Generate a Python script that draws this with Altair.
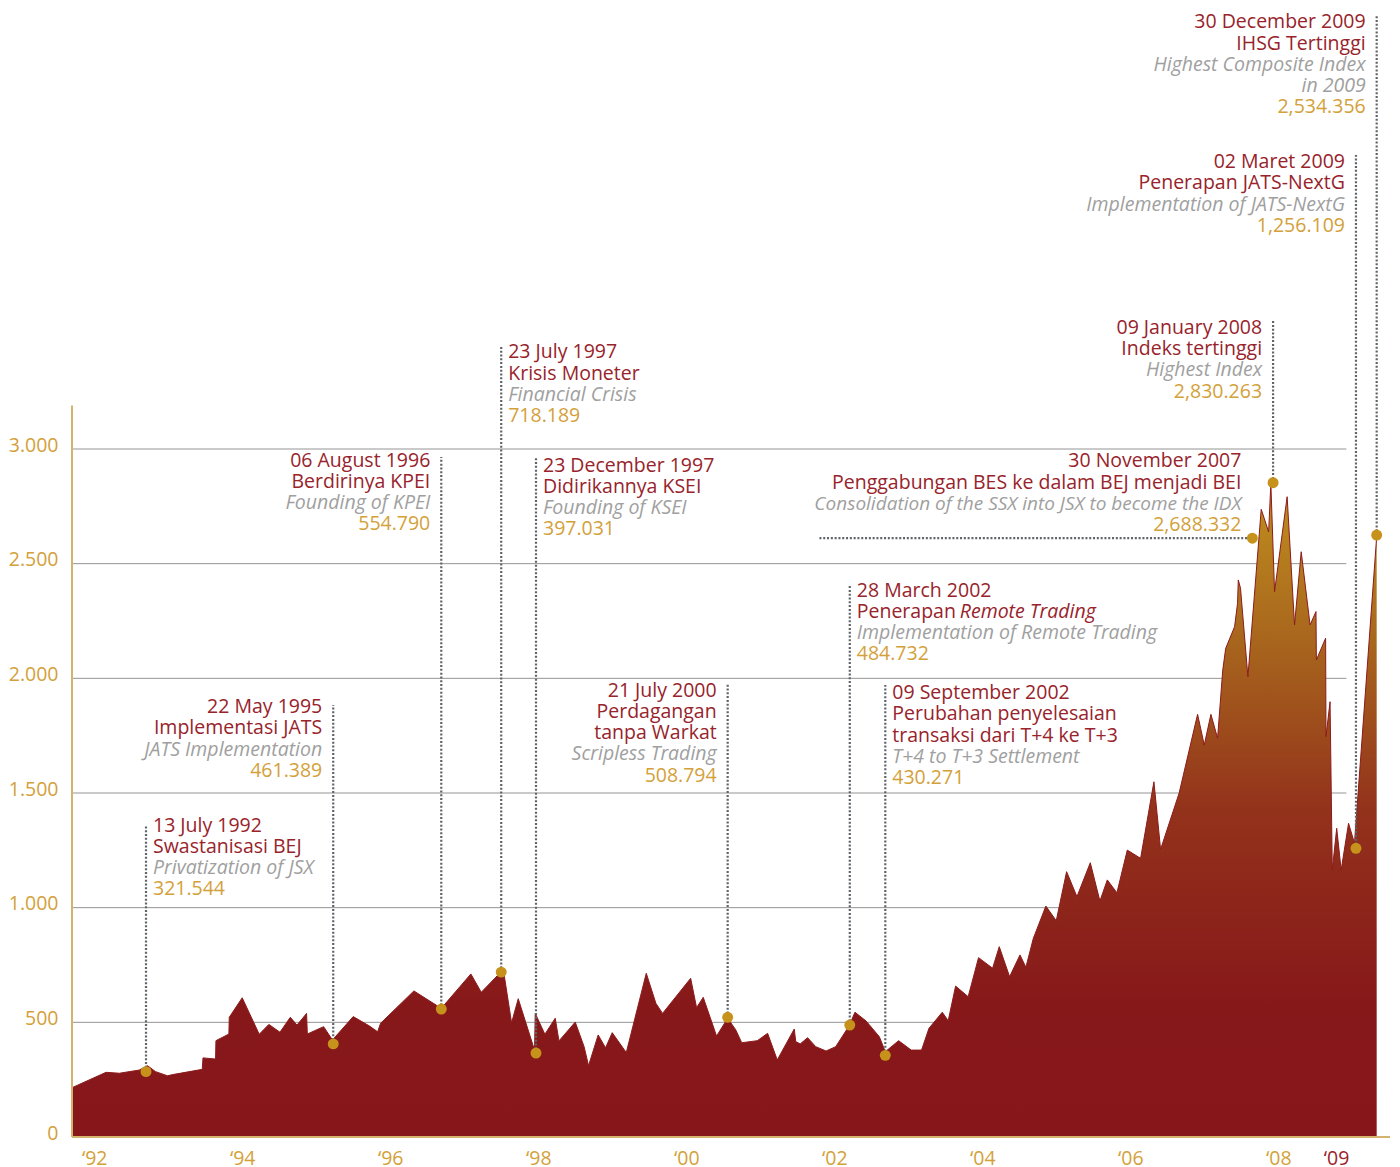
import altair as alt
import pandas as pd

# ---------------- data ----------------
# composite index outline (position on the time axis in decimal years, index value)
T = [1991.70, 1992.16, 1992.34, 1992.61, 1992.72, 1992.83, 1992.99, 1993.06, 1993.46, 1993.47,
     1993.64, 1993.645, 1993.82, 1993.825, 1994.00, 1994.23, 1994.36, 1994.51, 1994.65, 1994.74,
     1994.87, 1994.88, 1995.10, 1995.22, 1995.50, 1995.72, 1995.83, 1995.87, 1996.32, 1996.69,
     1997.09, 1997.23, 1997.50, 1997.54, 1997.64, 1997.73, 1997.95, 1997.96, 1998.09, 1998.23,
     1998.28, 1998.50, 1998.62, 1998.68, 1998.81, 1998.91, 1999.00, 1999.19, 1999.46, 1999.59,
     1999.68, 2000.06, 2000.14, 2000.23, 2000.41, 2000.56, 2000.67, 2000.75, 2000.96, 2001.10,
     2001.23, 2001.46, 2001.48, 2001.54, 2001.64, 2001.75, 2001.89, 2002.02, 2002.20, 2002.28,
     2002.43, 2002.61, 2002.69, 2002.87, 2003.04, 2003.18, 2003.28, 2003.46, 2003.54, 2003.64,
     2003.81, 2003.95, 2004.14, 2004.23, 2004.37, 2004.51, 2004.59, 2004.69, 2004.86, 2005.00,
     2005.14, 2005.28, 2005.46, 2005.59, 2005.69, 2005.82, 2005.96, 2006.14, 2006.32, 2006.41,
     2006.66, 2006.91, 2007.00, 2007.09, 2007.18, 2007.25, 2007.29, 2007.41, 2007.45, 2007.46,
     2007.49, 2007.59, 2007.77, 2007.87, 2007.90, 2007.95, 2008.12, 2008.22, 2008.31, 2008.43,
     2008.51, 2008.515, 2008.64, 2008.645, 2008.70, 2008.73, 2008.79, 2008.85, 2008.95, 2009.03,
     2009.33]
V = [215, 282, 278, 292, 311, 285, 267, 272, 295, 345,
     340, 420, 449, 522, 607, 448, 491, 457, 522, 488,
     539, 449, 481, 423, 525, 484, 459, 496, 637, 561,
     711, 631, 721, 706, 498, 603, 379, 539, 448, 518,
     419, 501, 394, 311, 445, 389, 455, 368, 714, 583,
     539, 692, 564, 609, 440, 518, 467, 411, 420, 452,
     336, 471, 416, 406, 433, 394, 375, 394, 484, 544,
     506, 437, 372, 420, 379, 379, 474, 544, 507, 658,
     612, 782, 736, 830, 699, 794, 740, 866, 1007, 943,
     1157, 1048, 1196, 1029, 1121, 1065, 1251, 1215, 1549, 1254,
     1499, 1843, 1709, 1843, 1739, 2036, 2131, 2225, 2327, 2429,
     2393, 2007, 2737, 2639, 2850, 2378, 2792, 2233, 2552, 2233,
     2291, 2080, 2175, 1746, 1898, 1164, 1346, 1164, 1368, 1281,
     2618]

# events: marker position, top of the leader line, baseline of the first text line
EV_T = [1992.70, 1995.23, 1996.69, 1997.50, 1997.97, 2000.56, 2002.21, 2002.69,
        2007.65, 2007.93, 2009.05, 2009.33]
EV_DOT = [285, 406, 558, 719, 366, 522, 488, 356, 2611, 2853, 1259, 2625]
EV_TOP = [1360, 1884, 2965, 3454, 2961, 1980, 2407, 1971, None, 3558, 4282, 4893]
EV_TXT = [1331, 1848, 2923, 3395, 2901, 1919, 2356, 1909, 2920, 3501, 4224, 4834]
EV_ALIGN = ["L", "R", "R", "L", "L", "R", "L", "L", "R", "R", "R", "R"]
HLEADER_FROM = 2001.80   # horizontal leader of the 30 November 2007 event

EV_LINES = [
    [("13 July 1992", "r"), ("Swastanisasi BEJ", "r"), ("Privatization of JSX", "g"), ("321.544", "y")],
    [("22 May 1995", "r"), ("Implementasi JATS", "r"), ("JATS Implementation", "g"), ("461.389", "y")],
    [("06 August 1996", "r"), ("Berdirinya KPEI", "r"), ("Founding of KPEI", "g"), ("554.790", "y")],
    [("23 July 1997", "r"), ("Krisis Moneter", "r"), ("Financial Crisis", "g"), ("718.189", "y")],
    [("23 December 1997", "r"), ("Didirikannya KSEI", "r"), ("Founding of KSEI", "g"), ("397.031", "y")],
    [("21 July 2000", "r"), ("Perdagangan", "r"), ("tanpa Warkat", "r"), ("Scripless Trading", "g"),
     ("508.794", "y")],
    [("28 March 2002", "r"), ("Penerapan", "r"), ("Remote Trading", "ri"),
     ("Implementation of Remote Trading", "g"), ("484.732", "y")],
    [("09 September 2002", "r"), ("Perubahan penyelesaian", "r"), ("transaksi dari T+4 ke T+3", "r"),
     ("T+4 to T+3 Settlement", "g"), ("430.271", "y")],
    [("30 November 2007", "r"), ("Penggabungan BES ke dalam BEJ menjadi BEI", "r"),
     ("Consolidation of the SSX into JSX to become the IDX", "g2"), ("2,688.332", "y")],
    [("09 January 2008", "r"), ("Indeks tertinggi", "r"), ("Highest Index", "g"), ("2,830.263", "y")],
    [("02 Maret 2009", "r"), ("Penerapan JATS-NextG", "r"), ("Implementation of JATS-NextG", "g"),
     ("1,256.109", "y")],
    [("30 December 2009", "r"), ("IHSG Tertinggi", "r"), ("Highest Composite Index", "g"),
     ("in 2009", "g"), ("2,534.356", "y")],
]

GRID_VALUES = [500, 1000, 1500, 2000, 2500, 3000]
GRID_END = 2008.92
Y_TICKS = [0, 500, 1000, 1500, 2000, 2500, 3000]
Y_AXIS_TOP = 3190
X_TICKS = [1992, 1994, 1996, 1998, 2000, 2002, 2004, 2006, 2008, 2008.78]
X_LABELS = ["\u201892", "\u201894", "\u201896", "\u201898", "\u201800", "\u201802", "\u201804",
            "\u201806", "\u201808", "\u201809"]
X_DOMAIN = [1991.70, 2009.51]
Y_DOMAIN = [0, 4923]

# ---------------- styling ----------------
FONT = "Open Sans"
FW = 400
FS = 19.5
RED = "#98232b"
GRAY = "#a0a0a0"
GOLD = "#d3a13a"
DOT = "#c6921c"
AXIS_GOLD = "#d6b36c"
LEADER = "#5f6469"
LINE_STEP = 92.4  # value units between text lines (about 21 px)

KIND_COLOR = {"r": RED, "ri": RED, "g": GRAY, "g2": GRAY, "y": GOLD}
KIND_SIZE = {"r": FS, "ri": FS, "g": FS, "g2": 19, "y": FS}

rows = []
for b, lines in enumerate(EV_LINES):
    i = 0
    for text, kind in lines:
        if kind == "ri":
            i -= 1
        rows.append(dict(t=EV_T[b], v=EV_TXT[b] - i * LINE_STEP, txt=text, kind=kind,
                         align=EV_ALIGN[b], col=KIND_COLOR[kind], fs=KIND_SIZE[kind]))
        i += 1
txt = pd.DataFrame(rows)

series = pd.DataFrame({"t": T, "v": V})
dots = pd.DataFrame({"t": EV_T, "v": EV_DOT})
leaders = pd.DataFrame([{"t": t, "v": d, "v2": top} for t, d, top in zip(EV_T, EV_DOT, EV_TOP)
                        if top is not None])
hleader = pd.DataFrame([{"t": HLEADER_FROM, "t2": EV_T[8], "v": EV_DOT[8]}])
grid = pd.DataFrame({"t": [X_DOMAIN[0]] * len(GRID_VALUES), "t2": [GRID_END] * len(GRID_VALUES),
                     "v": GRID_VALUES})
yline = pd.DataFrame([{"t": X_DOMAIN[0], "v": 0, "v2": Y_AXIS_TOP}])
xline = pd.DataFrame([{"t": X_DOMAIN[0], "t2": X_DOMAIN[1], "v": 0}])

label_expr = "''"
for pos, lab in reversed(list(zip(X_TICKS, X_LABELS))):
    label_expr = f"abs(datum.value - {pos}) < 0.01 ? '{lab}' : ({label_expr})"

X = alt.X("t:Q", scale=alt.Scale(domain=X_DOMAIN, nice=False, zero=False),
          axis=alt.Axis(values=X_TICKS, labelExpr=label_expr, title=None, grid=False,
                        domain=False, ticks=False, tickSize=0, labelPadding=12,
                        labelFont=FONT, labelFontSize=FS, labelFontWeight=FW,
                        labelFlush=False, labelOverlap=False,
                        labelColor={"condition": {"test": "datum.value > 2008.5", "value": RED},
                                    "value": GOLD}))
Y = alt.Y("v:Q", scale=alt.Scale(domain=Y_DOMAIN, nice=False, zero=False),
          axis=alt.Axis(values=Y_TICKS, labelExpr="replace(format(datum.value, ','), ',', '.')",
                        title=None, grid=False, domain=False, ticks=False, tickSize=0,
                        labelPadding=14, labelOffset=-4, labelFont=FONT, labelFontSize=FS,
                        labelFontWeight=FW, labelColor=GOLD, labelOverlap=False))

grid_l = alt.Chart(grid).mark_rule(color="#949494", strokeWidth=1).encode(x=X, x2="t2:Q", y=Y)
yline_l = alt.Chart(yline).mark_rule(color=AXIS_GOLD, strokeWidth=2).encode(x=X, y=Y, y2="v2:Q")
xline_l = alt.Chart(xline).mark_rule(color=AXIS_GOLD, strokeWidth=2).encode(x=X, x2="t2:Q", y=Y)

gradient = alt.Gradient(
    gradient="linear", x1=0, x2=0, y1=1, y2=0,
    stops=[alt.GradientStop(color="#86161a", offset=0),
           alt.GradientStop(color="#87181a", offset=0.2),
           alt.GradientStop(color="#93321b", offset=0.5),
           alt.GradientStop(color="#a7641d", offset=0.75),
           alt.GradientStop(color="#c0901f", offset=1)])
area_l = alt.Chart(series).mark_area(color=gradient, opacity=1).encode(x=X, y=Y)
edge_l = alt.Chart(series).mark_line(color="#8c1b1b", strokeWidth=1).encode(x=X, y=Y)

lead_l = alt.Chart(leaders).mark_rule(color=LEADER, strokeWidth=2.2, strokeDash=[2, 1.8]).encode(
    x=X, y=Y, y2="v2:Q")
hlead_l = alt.Chart(hleader).mark_rule(color=LEADER, strokeWidth=2.2, strokeDash=[2, 1.8]).encode(
    x=X, x2="t2:Q", y=Y)
dots_l = alt.Chart(dots).mark_circle(size=120, color=DOT, opacity=1).encode(x=X, y=Y)


def text_layer(df, align, dx, italic):
    kw = dict(align=align, baseline="alphabetic", dx=dx, font=FONT, fontWeight=FW)
    if italic:
        kw["fontStyle"] = "italic"
    return alt.Chart(df).mark_text(**kw).encode(
        x=X, y=Y, text=alt.Text("txt:N"),
        color=alt.Color("col:N", scale=None), size=alt.Size("fs:Q", scale=None))


is_it = txt["kind"].isin(["g", "g2"])
layers = [
    text_layer(txt[(~is_it) & (txt["kind"] != "ri") & (txt["align"] == "L")], "left", 7, False),
    text_layer(txt[(~is_it) & (txt["kind"] != "ri") & (txt["align"] == "R")], "right", -11, False),
    text_layer(txt[is_it & (txt["align"] == "L")], "left", 7, True),
    text_layer(txt[is_it & (txt["align"] == "R")], "right", -11, True),
    text_layer(txt[txt["kind"] == "ri"], "left", 110, True),
]

chart = alt.layer(grid_l, area_l, edge_l, xline_l, yline_l, lead_l, hlead_l, dots_l, *layers).properties(
    width=1318, height=1129, padding={"left": 0, "top": 0, "right": 0, "bottom": 0},
    background="white",
).configure_view(strokeWidth=0)

chart.save("out.html", embed_options={"renderer": "svg", "actions": False})
